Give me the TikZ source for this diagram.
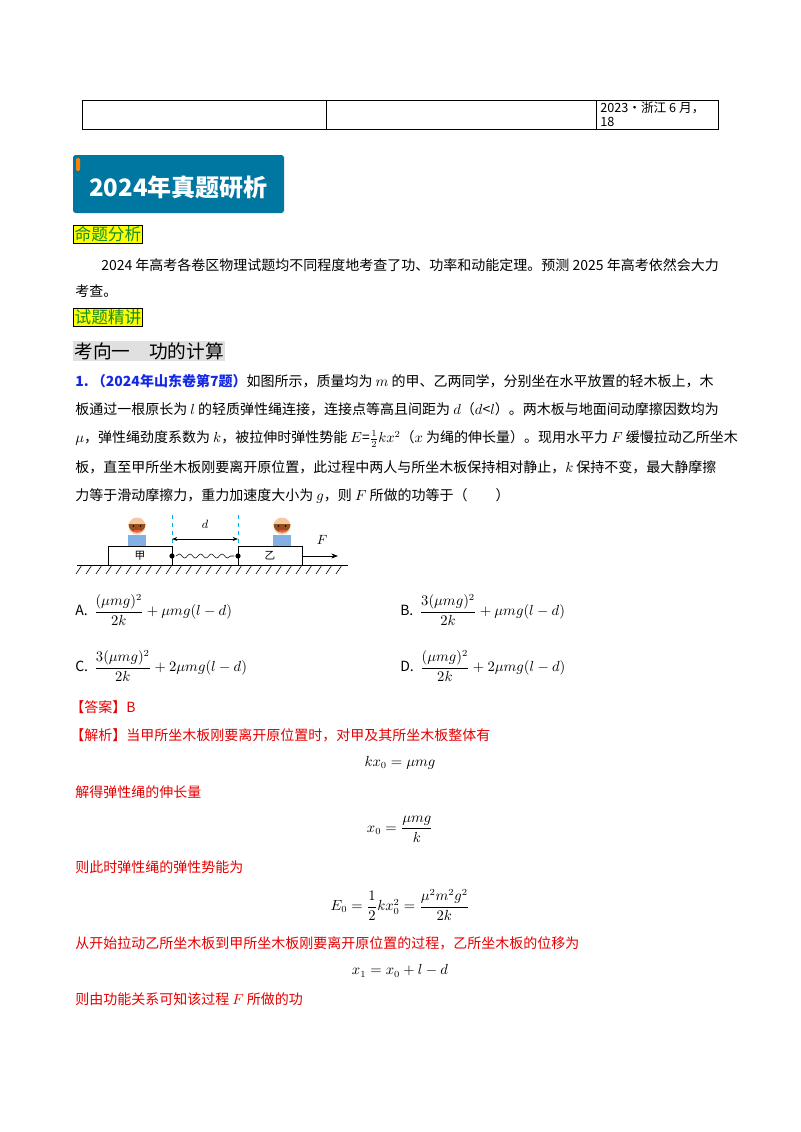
\documentclass[tikz,border=0pt]{standalone}
\usepackage{amsmath}
\usepackage{fontspec}
\setmainfont{Noto Sans CJK SC}
\usetikzlibrary{decorations.pathmorphing,arrows.meta}
\definecolor{hblue}{RGB}{0,119,160}
\definecolor{hgreen}{RGB}{20,140,40}
\definecolor{ered}{RGB}{230,0,0}
\definecolor{qblue}{RGB}{20,40,230}
\definecolor{tyel}{RGB}{255,255,0}
\definecolor{skin}{RGB}{245,200,160}
\definecolor{hair}{RGB}{150,80,30}
\tikzset{
  txt/.style={anchor=west,inner sep=0pt,font=\fontsize{10.5}{12}\selectfont},
  rtxt/.style={txt,text=ered},
  tag/.style={anchor=west,fill=tyel,draw=black,line width=0.4pt,inner sep=1pt,text=hgreen,font=\fontsize{12.5}{14}\selectfont},
  board/.style={draw,line width=0.6pt},
}
\begin{document}
\begin{tikzpicture}[x=0.75pt,y=-0.75pt]
\useasboundingbox (0,0) rectangle (800,1132);
\fill[white] (0,0) rectangle (800,1132);
% table
\draw[line width=0.6pt] (82,100) rectangle (718,129);
\draw[line width=0.6pt] (326,100) -- (326,129) (596,100) -- (596,129);
\node[txt,font=\fontsize{9.5}{11}\selectfont] (t1) at (600,108) {2023·浙江 6 月，};
\node[txt,font=\fontsize{9.5}{11}\selectfont] (t2) at (600,122) {18};
% header
\fill[hblue,rounded corners=2pt] (73,155) rectangle (284,213);
\fill[orange,rounded corners=1pt] (76,158) rectangle (80,171);
\node[anchor=west,inner sep=0pt,text=white,font=\fontsize{18}{20}\bfseries\selectfont] (hd) at (89,187) {2024年真题研析};
\node[tag] (tg1) at (73,234) {命题分析};
\node[txt] (p1) at (101,265) {2024 年高考各卷区物理试题均不同程度地考查了功、功率和动能定理。预测 2025 年高考依然会大力};
\node[txt] (p2) at (75,291) {考查。};
\node[tag] (tg2) at (73,317) {试题精讲};
\node[anchor=west,fill=black!12,inner sep=1pt,font=\fontsize{14}{16}\selectfont] (kx) at (73,351) {考向一\quad 功的计算};
% question
\node[txt] (q1) at (75,381) {\textcolor{qblue}{\bfseries 1.\ （2024年山东卷第7题）}如图所示，质量均为 $m$ 的甲、乙两同学，分别坐在水平放置的轻木板上，木};
\node[txt] (q2) at (75,409) {板通过一根原长为 $l$ 的轻质弹性绳连接，连接点等高且间距为 $d$（$d$<$l$）。两木板与地面间动摩擦因数均为};
\node[txt] (q3) at (75,439) {$\mu$，弹性绳劲度系数为 $k$，被拉伸时弹性势能 $E$=$\frac{1}{2}kx^2$（$x$ 为绳的伸长量）。现用水平力 $F$ 缓慢拉动乙所坐木};
\node[txt] (q4) at (75,467) {板，直至甲所坐木板刚要离开原位置，此过程中两人与所坐木板保持相对静止，$k$ 保持不变，最大静摩擦};
\node[txt] (q5) at (75,496) {力等于滑动摩擦力，重力加速度大小为 $g$，则 $F$ 所做的功等于（\qquad）};
% figure
\draw[line width=0.6pt] (77,565) -- (348,565);
\foreach \i in {0,...,26} \draw[line width=0.5pt] ({82+10*\i},565) -- ({76+10*\i},574);
\draw[board] (108,565) rectangle (172,546);
\draw[board] (238,565) rectangle (302,546);
\node[font=\fontsize{8}{9}\selectfont] (jia) at (140,556) {甲};
\node[font=\fontsize{8}{9}\selectfont] (yi) at (270,556) {乙};
\fill (172,556) circle (2.6) coordinate (s1);
\fill (238,556) circle (2.6) coordinate (s2);
\draw[decorate,decoration={snake,amplitude=1.5,segment length=8}] (176,556) -- (234,556);
\draw[cyan,dashed,line width=0.5pt] (172,515) -- (172,546) (238,515) -- (238,546);
\draw[{Stealth[length=4pt]}-{Stealth[length=4pt]},line width=0.6pt] (172,539) -- (238,539);
\node[font=\itshape\fontsize{9}{10}\selectfont] (dl) at (205,524) {$d$};
\draw[-{Stealth[length=5pt]},line width=0.6pt] (302,556) -- (338,556);
\node (Fl) at (322,540) {$F$};
% people
\foreach \cx in {137,282}{
  \fill[cyan!60!blue!50] (\cx-9,546) rectangle (\cx+9,535);
  \fill[skin] (\cx,526) circle (8.5);
  \fill[hair] (\cx-8.5,524) arc (180:0:8.5) -- cycle;
  \fill[red!70] (\cx-3.5,529.5) rectangle (\cx+3.5,531.5);
  \fill (\cx-3.5,526) circle (0.9) (\cx+3.5,526) circle (0.9);
}
% options
\node[txt] (oA) at (75,610) {A.\ \ $\dfrac{(\mu mg)^2}{2k}+\mu mg(l-d)$};
\node[txt] (oB) at (400,610) {B.\ \ $\dfrac{3(\mu mg)^2}{2k}+\mu mg(l-d)$};
\node[txt] (oC) at (75,666) {C.\ \ $\dfrac{3(\mu mg)^2}{2k}+2\mu mg(l-d)$};
\node[txt] (oD) at (400,666) {D.\ \ $\dfrac{(\mu mg)^2}{2k}+2\mu mg(l-d)$};
% answer
\node[rtxt] (ans) at (70,707) {【答案】B};
\node[rtxt] (jx) at (70,735) {【解析】当甲所坐木板刚要离开原位置时，对甲及其所坐木板整体有};
\node[txt,anchor=center] (e1) at (400,763) {$kx_0=\mu mg$};
\node[rtxt] (r2) at (75,792) {解得弹性绳的伸长量};
\node[txt,anchor=center] (e2) at (400,829) {$x_0=\dfrac{\mu mg}{k}$};
\node[rtxt] (r3) at (75,867) {则此时弹性绳的弹性势能为};
\node[txt,anchor=center] (e3) at (400,905) {$E_0=\dfrac{1}{2}kx_0^2=\dfrac{\mu^2m^2g^2}{2k}$};
\node[rtxt] (r4) at (75,943) {从开始拉动乙所坐木板到甲所坐木板刚要离开原位置的过程，乙所坐木板的位移为};
\node[txt,anchor=center] (e4) at (400,971) {$x_1=x_0+l-d$};
\node[rtxt] (r5) at (75,999) {则由功能关系可知该过程 $F$ 所做的功};
\end{tikzpicture}
\end{document}
